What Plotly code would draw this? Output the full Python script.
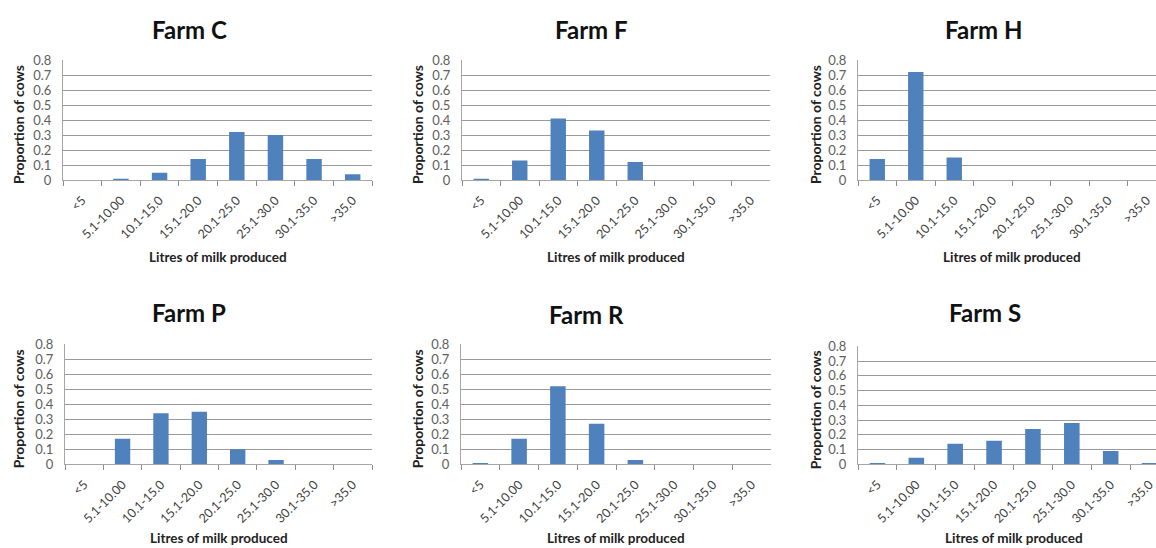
import plotly.graph_objects as go

# ---------------- data ----------------
categories = ["<5", "5.1-10.00", "10.1-15.0", "15.1-20.0", "20.1-25.0",
              "25.1-30.0", "30.1-35.0", ">35.0"]

farm_names = ["Farm C", "Farm F", "Farm H", "Farm P", "Farm R", "Farm S"]

farm_c = [0.00, 0.01, 0.05, 0.14, 0.32, 0.30, 0.14, 0.04]
farm_f = [0.01, 0.13, 0.41, 0.33, 0.12, 0.00, 0.00, 0.00]
farm_h = [0.14, 0.72, 0.15, 0.00, 0.00, 0.00, 0.00, 0.00]
farm_p = [0.00, 0.17, 0.34, 0.35, 0.10, 0.03, 0.00, 0.00]
farm_r = [0.01, 0.17, 0.52, 0.27, 0.03, 0.00, 0.00, 0.00]
farm_s = [0.01, 0.045, 0.14, 0.16, 0.24, 0.28, 0.09, 0.01]

y_ticks = [0, 0.1, 0.2, 0.3, 0.4, 0.5, 0.6, 0.7, 0.8]
y_tick_text = ["0", "0.1", "0.2", "0.3", "0.4", "0.5", "0.6", "0.7", "0.8"]

y_title = "Proportion of cows"
x_title = "Litres of milk produced"

# ---------------- layout (pixels) ----------------
W, H = 1156, 548
BAR = "#4F81BD"
FONT = "Lato"


def vy(y):
    """Convert a target pixel row into the figure row used for placement."""
    return min((y - 9) / 0.97, 546)


# plot boxes: x0, x1 (nominal, may run past the page), y_top, y_bottom
boxes = [
    (63, 372, 61, 181),
    (462, 770, 61, 181),
    (858, 1166, 61, 181),
    (65, 372, 345, 465),
    (461, 771, 345, 465),
    (858, 1169, 347, 465),
]
title_pos = [(189, 30), (591, 30), (984, 30), (189, 313), (586, 315), (985, 313)]
ytitle_x = [18, 417, 815, 18, 417, 815]
xtitle_y = [258, 258, 258, 541, 541, 541]

series = [farm_c, farm_f, farm_h, farm_p, farm_r, farm_s]

fig = go.Figure()
annotations = []

for i, (name, vals) in enumerate(zip(farm_names, series)):
    n = i + 1
    xa = "x" if n == 1 else f"x{n}"
    ya = "y" if n == 1 else f"y{n}"
    fig.add_trace(go.Bar(x=categories, y=vals, xaxis=xa, yaxis=ya,
                         marker=dict(color=BAR, line=dict(width=0)),
                         showlegend=False))
    x0, x1, yt, yb = boxes[i]
    ncat = len(categories)
    step = (x1 - x0) / ncat
    vis_x1 = min(x1, W)
    rng_hi = -0.5 + (vis_x1 - x0) / step
    xkey = "xaxis" if n == 1 else f"xaxis{n}"
    ykey = "yaxis" if n == 1 else f"yaxis{n}"
    fig.update_layout(**{
        xkey: dict(domain=[x0 / W, vis_x1 / W], anchor=ya,
                   type="category", range=[-0.5, rng_hi],
                   tickangle=-45, tickson="boundaries",
                   ticks="outside", ticklen=5, tickcolor="#8c8c8c",
                   showline=True, linecolor="#a6a6a6", linewidth=1,
                   showgrid=False, zeroline=False,
                   tickfont=dict(family=FONT, size=12.5, color="#404040"),
                   ticklabelstandoff=7, fixedrange=True),
        ykey: dict(domain=[1 - vy(yb) / H, 1 - vy(yt) / H], anchor=xa,
                   range=[0, 0.8], tickvals=y_ticks, ticktext=y_tick_text,
                   showgrid=True, gridcolor="#9a9a9a", gridwidth=1,
                   showline=True, linecolor="#a6a6a6", linewidth=1,
                   zeroline=False, ticks="",
                   tickfont=dict(family=FONT, size=13, color="#606060"),
                   ticklabelstandoff=8, fixedrange=True),
    })
    tx, ty = title_pos[i]
    annotations.append(dict(text=f"<b>{name}</b>", x=tx / W, y=1 - vy(ty) / H,
                            xref="paper", yref="paper", showarrow=False,
                            xanchor="center", yanchor="middle",
                            font=dict(family=FONT, size=24, color="#111111")))
    annotations.append(dict(text=f"<b>{y_title}</b>", x=ytitle_x[i] / W,
                            y=1 - vy((yt + yb) / 2 + 5) / H,
                            xref="paper", yref="paper", showarrow=False,
                            textangle=-90, xanchor="center", yanchor="middle",
                            font=dict(family=FONT, size=14, color="#222222")))
    annotations.append(dict(text=f"<b>{x_title}</b>", x=((x0 + x1) / 2) / W,
                            y=1 - vy(xtitle_y[i]) / H,
                            xref="paper", yref="paper", showarrow=False,
                            xanchor="center", yanchor="middle",
                            font=dict(family=FONT, size=13.5, color="#222222")))

fig.update_layout(width=W, height=H, margin=dict(l=0, r=0, t=0, b=0),
                  paper_bgcolor="white", plot_bgcolor="white",
                  bargap=0.6, annotations=annotations)

fig.write_html("out.html", config={"displayModeBar": False},
               post_script="document.body.style.margin='0';"
                           "document.body.style.padding='0';")
